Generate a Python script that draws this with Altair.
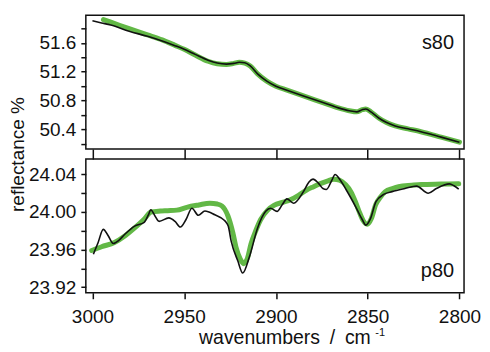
import altair as alt
import pandas as pd

# ---------------- data ----------------
top_black_wn = [3000, 2995, 2990, 2980, 2970, 2962, 2955, 2950, 2944, 2937, 2932, 2927, 2923, 2920, 2917,
                2914, 2910, 2905, 2900, 2894, 2885, 2874, 2866, 2860, 2856, 2853, 2851, 2848, 2844, 2840,
                2835, 2828, 2821, 2810, 2800]
top_black_val = [51.905, 51.875, 51.845, 51.76, 51.69, 51.625, 51.56, 51.51, 51.44, 51.36, 51.32, 51.305,
                 51.315, 51.33, 51.325, 51.28, 51.17, 51.07, 51.00, 50.945, 50.865, 50.77, 50.70, 50.66,
                 50.645, 50.675, 50.685, 50.64, 50.56, 50.50, 50.45, 50.41, 50.37, 50.295, 50.225]

top_green_wn = [2994, 2990, 2980, 2970, 2962, 2955, 2950, 2944, 2937, 2932, 2927, 2923, 2920, 2917,
                2914, 2910, 2905, 2900, 2894, 2885, 2874, 2866, 2860, 2856, 2853, 2851, 2848, 2844, 2840,
                2835, 2828, 2821, 2810, 2800]
top_green_val = [51.92, 51.885, 51.795, 51.71, 51.64, 51.565, 51.51, 51.43, 51.345, 51.31, 51.30,
                 51.315, 51.33, 51.32, 51.28, 51.17, 51.07, 51.00, 50.945, 50.865, 50.77, 50.70, 50.66,
                 50.645, 50.675, 50.685, 50.64, 50.56, 50.50, 50.45, 50.41, 50.37, 50.295, 50.225]

bot_black_wn = [2999.5, 2997, 2994.1, 2991.5, 2988.7, 2985.5, 2982.5, 2977, 2971.8, 2969.5, 2968.2, 2966,
                2963.7, 2958.4, 2955, 2952.1, 2949, 2945.8, 2942.3, 2938.7, 2933.3, 2928, 2926, 2924.4,
                2920.8, 2918.1, 2914.5, 2910, 2905.6, 2902.9, 2899.4, 2896.5, 2894, 2890.4, 2885, 2882,
                2879.8, 2877, 2874.4, 2872.5, 2869.5, 2867.8, 2865, 2861.8, 2856.4, 2853, 2851, 2848.5,
                2845.5, 2841, 2836.7, 2829.7, 2823.4, 2817, 2812.6, 2805.5, 2803, 2800.4]
bot_black_val = [23.955, 23.967, 23.9815, 23.975, 23.9665, 23.970, 23.976, 23.985, 23.989, 23.997, 24.0024,
                 23.996, 23.990, 23.9937, 23.990, 23.984, 23.992, 24.004, 23.9965, 24.001, 23.997, 23.991,
                 23.985, 23.969, 23.948, 23.935, 23.952, 23.983, 24.0007, 24.004, 24.0007, 24.008, 24.014,
                 24.0094, 24.0217, 24.032, 24.035, 24.031, 24.025, 24.024, 24.034, 24.040, 24.034, 24.024,
                 24.005, 23.992, 23.986, 23.993, 24.011, 24.019, 24.0217, 24.025, 24.0276, 24.020, 24.025,
                 24.030, 24.028, 24.0244]

bot_green_wn = [3000.4, 2995, 2988, 2982, 2977, 2972, 2968, 2963, 2959, 2954, 2948.6, 2942, 2936, 2932,
                2929.5, 2926.2, 2923.5, 2921.7, 2919.5, 2917.6, 2915.5, 2913.6, 2911, 2908.3, 2904.5,
                2901.1, 2896, 2892.2, 2887.5, 2883.3, 2879.5, 2876.2, 2872, 2868.5, 2865.4, 2862, 2859.2,
                2856.7, 2854.7, 2852.5, 2850.3, 2848, 2845.7, 2843, 2840.4, 2836.5, 2833.2, 2826, 2820.8,
                2810, 2800.4]
bot_green_val = [23.959, 23.963, 23.9675, 23.975, 23.983, 23.992, 24.0, 24.001, 24.0014, 24.002, 24.005,
                 24.0075, 24.0094, 24.0085, 24.0065, 23.996, 23.978, 23.962, 23.950, 23.945, 23.951,
                 23.966, 23.980, 23.992, 24.002, 24.007, 24.0105, 24.0129, 24.018, 24.0234, 24.027,
                 24.030, 24.033, 24.035, 24.034, 24.029, 24.0217, 24.011, 24.0007, 23.991, 23.987,
                 23.993, 24.0076, 24.016, 24.0217, 24.025, 24.027, 24.0285, 24.0293, 24.0297, 24.030]

x_ticks = [3000, 2950, 2900, 2850, 2800]
top_y_ticks = [50.2, 50.4, 50.6, 50.8, 51.0, 51.2, 51.4, 51.6, 51.8]
top_y_labels = ["51.6", "51.2", "50.8", "50.4"]
bot_y_ticks = [23.92, 23.94, 23.96, 23.98, 24.00, 24.02, 24.04]
bot_y_labels = ["24.04", "24.00", "23.96", "23.92"]

# ---------------- styles ----------------
GREEN = "#62b846"
BLACK = "#111111"
FONT = "Liberation Sans"
W, H = 379, 134
XDOM = [2797.5, 3003.6]


def frame(wn, val, series):
    return pd.DataFrame({"wn": wn, "val": val, "series": series})


top_df = pd.concat([frame(top_green_wn, top_green_val, "fit"), frame(top_black_wn, top_black_val, "exp")])
bot_df = pd.concat([frame(bot_green_wn, bot_green_val, "fit"), frame(bot_black_wn, bot_black_val, "exp")])


def lines(df, xaxis, yaxis, ydom):
    base = alt.Chart(df)
    x = alt.X("wn:Q", scale=alt.Scale(domain=XDOM, reverse=True, nice=False, zero=False), axis=xaxis)
    y = alt.Y("val:Q", scale=alt.Scale(domain=ydom, nice=False, zero=False), axis=yaxis)
    g = base.transform_filter(alt.datum.series == "fit").mark_line(
        color=GREEN, strokeWidth=5, interpolate="monotone", strokeCap="round").encode(x=x, y=y, order="wn:Q")
    b = base.transform_filter(alt.datum.series == "exp").mark_line(
        color=BLACK, strokeWidth=1.6, interpolate="monotone").encode(x=x, y=y, order="wn:Q")
    return g, b


def label_expr(labels, fmt):
    arr = ",".join("'" + s + "'" for s in labels)
    return f"indexof([{arr}], format(datum.value,'{fmt}')) >= 0 ? format(datum.value,'{fmt}') : ''"


top_xaxis = alt.Axis(values=x_ticks, labels=False, tickSize=10, domain=False, grid=False, title=None,
                     tickColor=BLACK, tickWidth=1.5)
top_yaxis = alt.Axis(values=top_y_ticks, grid=False, domain=False, tickSize=5, tickWidth=1.5,
                     tickColor=BLACK, labelPadding=5, labelExpr=label_expr(top_y_labels, ".1f"),
                     labelFont=FONT, labelFontSize=19, labelColor=BLACK,
                     title="reflectance %", titleAngle=270, titleX=-62, titleY=139,
                     titleBaseline="alphabetic", titleAlign="center", titleFontSize=19,
                     titleFontWeight="normal", titleFont=FONT, titleColor=BLACK)

g1, b1 = lines(top_df, top_xaxis, top_yaxis, [50.13, 51.98])
lab1 = alt.Chart(pd.DataFrame({"t": ["s80"]})).mark_text(
    align="right", baseline="alphabetic", fontSize=20, font=FONT, color=BLACK).encode(
    text="t:N", x=alt.value(369), y=alt.value(34))
top = alt.layer(g1, b1, lab1).properties(width=W, height=H)

bot_xaxis = alt.Axis(values=x_ticks, format="d", tickSize=6, domain=False, grid=False,
                     tickColor=BLACK, tickWidth=1.5, labelPadding=9,
                     labelFont=FONT, labelFontSize=19, labelColor=BLACK,
                     title="wavenumbers\u2002/\u2002cm", titleFontSize=19.5, titleFontWeight="normal",
                     titleFont=FONT, titleColor=BLACK, titleX=199, titleY=51,
                     titleBaseline="alphabetic", titleAlign="center")
bot_yaxis = alt.Axis(values=bot_y_ticks, grid=False, domain=False, tickSize=5, tickWidth=1.5,
                     tickColor=BLACK, labelPadding=5, labelExpr=label_expr(bot_y_labels, ".2f"),
                     labelFont=FONT, labelFontSize=19, labelColor=BLACK, title=None)
g2, b2 = lines(bot_df, bot_xaxis, bot_yaxis, [23.914, 24.0564])
lab2 = alt.Chart(pd.DataFrame({"t": ["p80"]})).mark_text(
    align="right", baseline="alphabetic", fontSize=20, font=FONT, color=BLACK).encode(
    text="t:N", x=alt.value(369), y=alt.value(118))
sup = alt.Chart(pd.DataFrame({"t": ["-1"]})).mark_text(
    align="left", baseline="alphabetic", fontSize=11, font=FONT, color=BLACK).encode(
    text="t:N", x=alt.value(290), y=alt.value(H + 43))
bottom = alt.layer(g2, b2, lab2, sup).properties(width=W, height=H)

chart = alt.vconcat(top, bottom, spacing=10, bounds="flush").properties(
    padding={"left": 0, "top": 0, "right": 0, "bottom": 0}, background="white"
).configure_view(stroke=BLACK, strokeWidth=1.5)

chart.save("out.html", embed_options={"renderer": "svg", "actions": False})
